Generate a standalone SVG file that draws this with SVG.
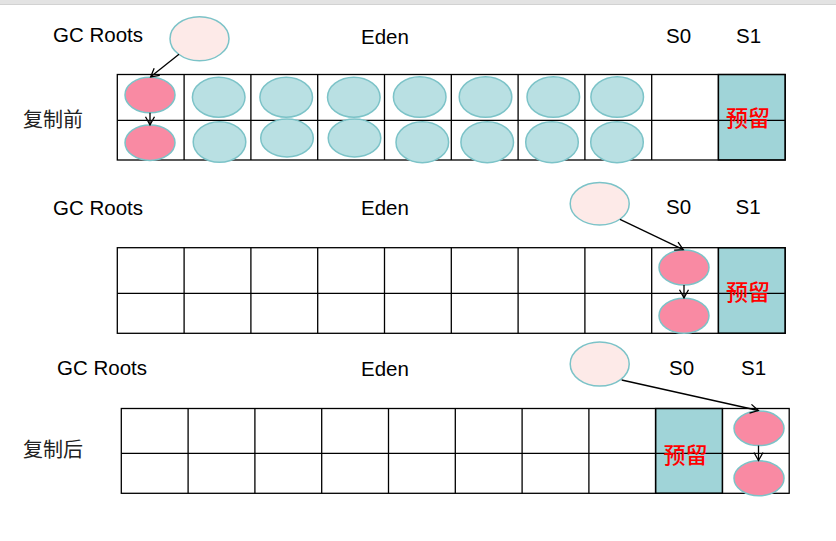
<svg xmlns="http://www.w3.org/2000/svg" width="836" height="541" viewBox="0 0 836 541">
<defs>
<style>
.lbl{font-family:"Liberation Sans",Arial,sans-serif;font-size:20.5px;fill:#000}
.cn{font-family:"Noto Sans CJK SC",sans-serif;font-size:20px;fill:#222}
.res{font-family:"Noto Sans CJK SC",serif;font-size:22px;fill:#ff0000;font-weight:500}
.grid{fill:none;stroke:#000;stroke-width:1.3}
.rsv{fill:#a0d4d8;stroke:#000;stroke-width:1.3}
.obj{fill:#b9e0e3;stroke:#7cc3c8;stroke-width:1.5}
.live{fill:#f98aa3;stroke:#7cc3c8;stroke-width:1.5}
.root{fill:#fdeae8;stroke:#7cc3c8;stroke-width:1.5}
.conn{fill:none;stroke:#000;stroke-width:1.3}
</style>
<marker id="arr" markerWidth="12" markerHeight="12" refX="9" refY="6" orient="auto" markerUnits="userSpaceOnUse">
<path d="M1,1.5 L9,6 L1,10.5" fill="none" stroke="#000" stroke-width="1.3"/>
</marker>
</defs>
<rect x="0" y="0" width="836" height="4" fill="#e3e3e3"/>
<line x1="0" y1="4.5" x2="836" y2="4.5" stroke="#d2d2d2" stroke-width="1"/>

<!-- Section 1: before copy -->
<g id="labels-1">
<text class="lbl" x="53" y="42">GC Roots</text>
<text class="lbl" x="361" y="44">Eden</text>
<text class="lbl" x="666" y="43">S0</text>
<text class="lbl" x="736" y="43">S1</text>
<text class="cn" x="23" y="127">复制前</text>
</g>
<g id="heap-1">
<rect class="rsv" x="718.3" y="74.5" width="66.9" height="85.5"/>
<rect class="grid" x="117.3" y="74.5" width="667.9" height="85.5"/>
<line class="grid" x1="117.3" y1="120.3" x2="785.2" y2="120.3"/>
<path class="grid" d="M184.1,74.5V160 M250.9,74.5V160 M317.7,74.5V160 M384.5,74.5V160 M451.3,74.5V160 M518.1,74.5V160 M584.9,74.5V160 M651.7,74.5V160 M718.5,74.5V160"/>
<text class="res" x="748" y="126" text-anchor="middle">预留</text>
</g>
<g id="root-1"><ellipse class="root" cx="199.5" cy="38.7" rx="29.5" ry="22"/></g>
<g id="objects-1">
<ellipse class="live" cx="150" cy="95" rx="25" ry="17.7"/>
<ellipse class="live" cx="150" cy="142.7" rx="25" ry="17.7"/>
<ellipse class="obj" cx="218.7" cy="97.3" rx="26.3" ry="20"/>
<ellipse class="obj" cx="286.2" cy="97.3" rx="26.3" ry="20"/>
<ellipse class="obj" cx="353.8" cy="97.3" rx="26.3" ry="20"/>
<ellipse class="obj" cx="419.7" cy="97" rx="26.3" ry="20.3"/>
<ellipse class="obj" cx="485.5" cy="97" rx="26.3" ry="20.3"/>
<ellipse class="obj" cx="553.3" cy="97" rx="26.3" ry="20.3"/>
<ellipse class="obj" cx="617.2" cy="97" rx="26.3" ry="20.3"/>
<ellipse class="obj" cx="219.5" cy="142" rx="26.3" ry="20.3"/>
<ellipse class="obj" cx="287" cy="138" rx="26.3" ry="19"/>
<ellipse class="obj" cx="354.5" cy="138" rx="26.3" ry="19"/>
<ellipse class="obj" cx="422.3" cy="142.2" rx="26.3" ry="20.5"/>
<ellipse class="obj" cx="487.2" cy="142.2" rx="26.3" ry="20.5"/>
<ellipse class="obj" cx="552" cy="142.2" rx="26.3" ry="20.5"/>
<ellipse class="obj" cx="617" cy="142.2" rx="26.3" ry="20.5"/>
</g>

<!-- Section 2 -->
<g id="labels-2">
<text class="lbl" x="53" y="215">GC Roots</text>
<text class="lbl" x="361" y="215">Eden</text>
<text class="lbl" x="666" y="214">S0</text>
<text class="lbl" x="735.5" y="214">S1</text>
</g>
<g id="heap-2">
<rect class="rsv" x="718.3" y="247.7" width="66.9" height="85.6"/>
<rect class="grid" x="117.3" y="247.7" width="667.9" height="85.6"/>
<line class="grid" x1="117.3" y1="293.3" x2="785.2" y2="293.3"/>
<path class="grid" d="M184.1,247.7V333.3 M250.9,247.7V333.3 M317.7,247.7V333.3 M384.5,247.7V333.3 M451.3,247.7V333.3 M518.1,247.7V333.3 M584.9,247.7V333.3 M651.7,247.7V333.3 M718.5,247.7V333.3"/>
<text class="res" x="748" y="299.5" text-anchor="middle">预留</text>
</g>
<g id="root-2"><ellipse class="root" cx="599.7" cy="203.7" rx="29.5" ry="21.3"/></g>
<g id="objects-2">
<ellipse class="live" cx="684" cy="267.5" rx="25" ry="17.5"/>
<ellipse class="live" cx="684" cy="315.7" rx="25" ry="17.5"/>
</g>

<!-- Section 3: after copy -->
<g id="labels-3">
<text class="lbl" x="57" y="375">GC Roots</text>
<text class="lbl" x="361" y="376">Eden</text>
<text class="lbl" x="669" y="375">S0</text>
<text class="lbl" x="741" y="375">S1</text>
<text class="cn" x="23" y="457">复制后</text>
</g>
<g id="heap-3">
<rect class="rsv" x="655.5" y="408.5" width="66.9" height="84.8"/>
<rect class="grid" x="121.3" y="408.5" width="667.9" height="84.8"/>
<line class="grid" x1="121.3" y1="453.3" x2="789.2" y2="453.3"/>
<path class="grid" d="M188.1,408.5V493.3 M254.9,408.5V493.3 M321.7,408.5V493.3 M388.5,408.5V493.3 M455.3,408.5V493.3 M522.1,408.5V493.3 M588.9,408.5V493.3 M655.7,408.5V493.3 M722.5,408.5V493.3"/>
<text class="res" x="685.5" y="462.5" text-anchor="middle">预留</text>
</g>
<g id="root-3"><ellipse class="root" cx="599.7" cy="364" rx="29.5" ry="22"/></g>
<g id="objects-3">
<ellipse class="live" cx="759" cy="428.3" rx="25" ry="17.3"/>
<ellipse class="live" cx="759" cy="478.3" rx="25" ry="17.5"/>
</g>

<g id="connectors">
<line class="conn" x1="179" y1="54.3" x2="150.7" y2="76.8" marker-end="url(#arr)"/>
<line class="conn" x1="150" y1="112.7" x2="150" y2="124.8" marker-end="url(#arr)"/>
<line class="conn" x1="620" y1="219.3" x2="683.3" y2="249.6" marker-end="url(#arr)"/>
<line class="conn" x1="684" y1="285" x2="684" y2="297.8" marker-end="url(#arr)"/>
<line class="conn" x1="621.7" y1="380" x2="758.3" y2="410.5" marker-end="url(#arr)"/>
<line class="conn" x1="758.5" y1="445.6" x2="758.5" y2="460.5" marker-end="url(#arr)"/>
</g>
</svg>
